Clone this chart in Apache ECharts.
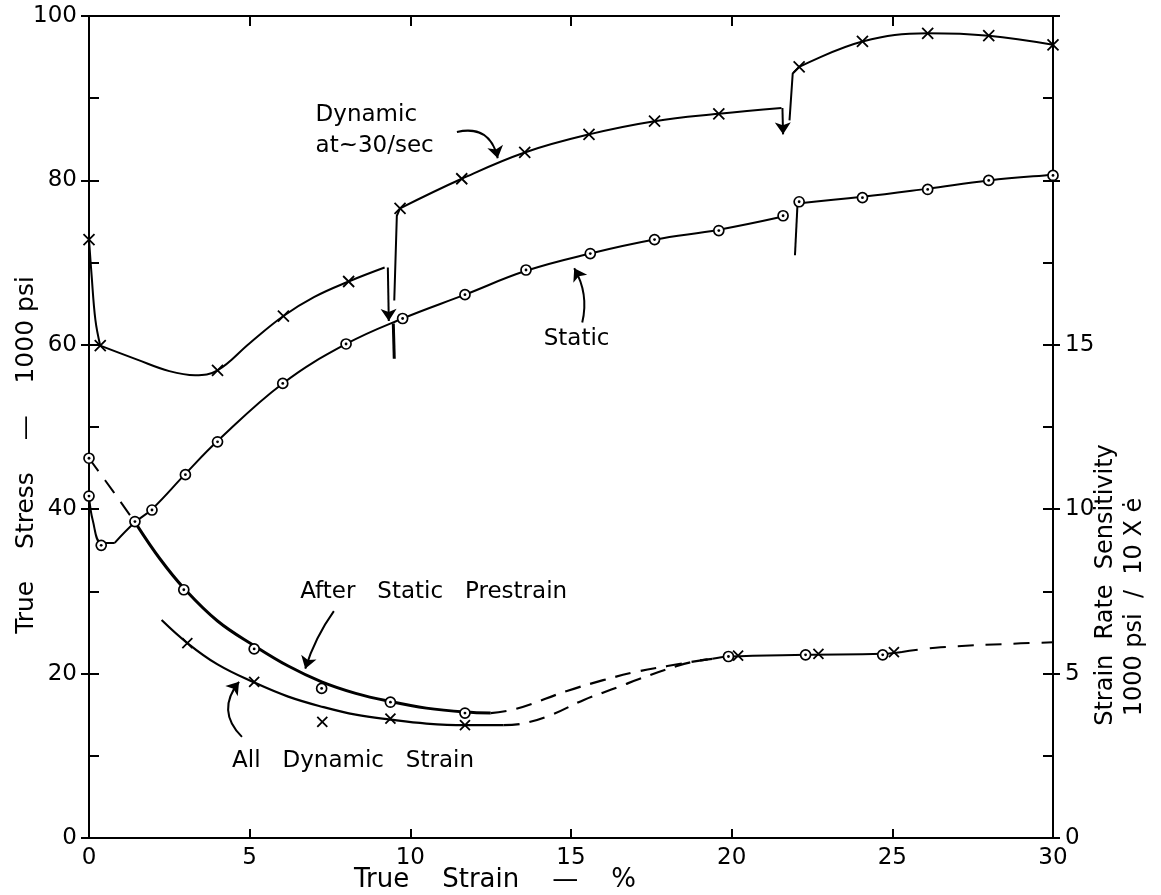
<!DOCTYPE html>
<html><head><meta charset="utf-8">
<script src="https://cdn.jsdelivr.net/npm/echarts@6/dist/echarts.min.js"></script>
<style>html,body{margin:0;padding:0;background:#fff}#c{width:1161px;height:895px}</style>
</head><body><div id="c"></div>
<script>
// ---------- tick labels ----------
const xLabels = [0, 5, 10, 15, 20, 25, 30];
const leftLabels = [0, 20, 40, 60, 80, 100];
const rightLabels = [0, 5, 10, 15];

// ---------- Dynamic at ~30/sec (True stress, 1000 psi) ----------
const dynDrop = [[0,72.8],[0.08,68.5],[0.2,63.0],[0.35,59.9]];
const dynSeg1 = [[0.35,59.9],[1.5,58.2],[2.5,56.8],[3.3,56.3],[4.0,56.9],[5.0,60.2],[6.05,63.5],[7.0,65.8],[8.08,67.7],[9.2,69.4]];
const dynSeg2 = [[9.68,76.6],[11.6,80.2],[13.56,83.4],[15.56,85.6],[17.6,87.2],[19.6,88.1],[21.55,88.8]];
const dynSeg3 = [[22.1,93.8],[24.07,96.9],[26.1,97.9],[28.0,97.6],[30.0,96.5]];
const dynJump1 = [[9.5,65.4],[9.58,75.7],[9.68,76.6]];
const dynJump2 = [[21.8,87.3],[21.9,93.0],[22.1,93.8]];
const dynMarks = [[0,72.8],[0.35,59.9],[4.0,56.9],[6.05,63.5],[8.08,67.7],[9.68,76.6],[11.6,80.2],[13.56,83.4],[15.56,85.6],[17.6,87.2],[19.6,88.1],[22.1,93.8],[24.07,96.9],[26.1,97.9],[28.0,97.6],[30.0,96.5]];

// ---------- Static (True stress, 1000 psi) ----------
const staticDrop = [[0,41.6],[0.12,38.6],[0.38,35.9],[0.8,35.9]];
const staticSeg1 = [[0.8,35.9],[1.43,38.4],[1.96,40.0],[3.0,44.3],[4.0,48.3],[6.03,55.3],[8.0,60.1],[9.76,63.2],[11.7,66.1],[13.6,69.0],[15.6,71.1],[17.6,72.8],[19.6,74.0],[21.6,75.6]];
const staticSeg2 = [[22.05,77.2],[24.07,78.0],[26.1,79.0],[28.0,80.0],[30.0,80.7],[30.4,80.8]];
const staticJump1 = [[9.5,58.3],[9.47,62.6]];
const staticJump2 = [[21.97,70.9],[22.05,77.2]];
const staticMarks = [[0,41.6],[0.38,35.6],[1.43,38.5],[1.96,39.9],[3.0,44.2],[4.0,48.2],[6.03,55.3],[8.0,60.1],[9.76,63.2],[11.7,66.1],[13.6,69.1],[15.6,71.1],[17.6,72.8],[19.6,73.9],[21.6,75.7],[22.1,77.4],[24.07,77.9],[26.1,78.9],[28.0,80.0],[30.0,80.6]];

// ---------- Strain rate sensitivity (1000 psi / 10x strain rate) ----------
const preDashStart = [[0,11.55],[0.5,10.88],[1.0,10.2],[1.5,9.5]];
const preSolid = [[1.5,9.5],[2.2,8.5],[2.95,7.6],[4.0,6.6],[5.14,5.85],[6.2,5.23],[7.24,4.75],[8.3,4.4],[9.38,4.15],[10.5,3.95],[11.7,3.83],[12.5,3.8]];
const preDashEnd = [[12.5,3.8],[13.3,3.93],[14.9,4.48],[16.0,4.8],[17.0,5.05],[18.0,5.23],[18.9,5.38],[19.4,5.45]];
const preMarks = [[0,11.55],[2.95,7.55],[5.14,5.75],[7.24,4.55],[9.38,4.13],[11.7,3.8],[19.9,5.52],[22.3,5.57],[24.7,5.57]];

const allDynSolid = [[2.26,6.63],[3.06,5.93],[4.0,5.28],[5.14,4.73],[6.2,4.3],[7.3,3.98],[8.3,3.75],[9.38,3.6],[10.5,3.48],[11.7,3.43],[12.9,3.43]];
const allDynDash = [[12.9,3.43],[13.5,3.48],[14.4,3.75],[15.4,4.2],[16.5,4.6],[17.1,4.83],[18.3,5.23],[18.9,5.38],[19.4,5.45]];
const allDynMarks = [[3.06,5.93],[5.14,4.75],[7.26,3.53],[9.38,3.63],[11.7,3.43],[20.2,5.55],[22.7,5.6],[25.05,5.65]];

const joinedSolid = [[19.4,5.45],[19.9,5.52],[22.3,5.57],[24.7,5.6],[25.3,5.66]];
const joinedDash = [[25.3,5.66],[26.5,5.8],[29.0,5.92],[30.0,5.95]];

// ---------- annotations (True stress units) ----------
const annotText = [
  {name:'Dynamic', value:[7.05,88.0]},
  {name:'at~30/sec', value:[7.05,84.2]},
  {name:'Static', value:[14.15,60.7]},
  {name:'After   Static   Prestrain', value:[6.57,29.9]},
  {name:'All   Dynamic   Strain', value:[4.45,9.4]}
];
const arrowFrom = [[11.45,85.9],[15.35,62.7],[7.62,27.6],[4.76,12.3],[9.3,69.4],[21.58,88.8]];
const arrowTo   = [[12.72,82.7],[15.1,69.3],[6.73,20.6],[4.67,19.0],[9.33,62.9],[21.6,85.6]];
const arrowBend = [0.5,-0.2,-0.08,0.45,0,0];

const FONT = 'DejaVu Sans';
const BLACK = '#000';
const xSym = 'path://M0,0L10,10M10,0L0,10';

function line(data, yi, opts) {
  return Object.assign({
    type:'line', data, yAxisIndex: yi, showSymbol:false, symbol:'none', silent:true,
    smooth:0.4, z:3,
    lineStyle:{color:BLACK, width:2}
  }, opts || {});
}
function xMarks(data, yi, size) {
  return {type:'scatter', data, yAxisIndex: yi, symbol:xSym, symbolSize: size || 10, silent:true, z:5,
    itemStyle:{color:'rgba(0,0,0,0)', borderColor:BLACK, borderWidth:1.8, opacity:1}};
}
function oMarks(data, yi) {
  return [
    {type:'scatter', data, yAxisIndex: yi, symbol:'circle', symbolSize:10, silent:true, z:5,
      itemStyle:{color:'#fff', borderColor:BLACK, borderWidth:1.7, opacity:1}},
    {type:'scatter', data, yAxisIndex: yi, symbol:'circle', symbolSize:2.8, silent:true, z:6,
      itemStyle:{color:BLACK, opacity:1}}
  ];
}

const axisLbl = {color:BLACK, fontFamily:FONT, fontSize:23};
const axLine = {show:true, onZero:false, lineStyle:{color:BLACK, width:2}};

const option = {
  animation:false,
  backgroundColor:'#fff',
  grid:{left:89, right:108, top:16, bottom:57},
  xAxis:[
    {type:'value', min:0, max:30, interval:5, position:'bottom',
      axisLine:axLine,
      axisTick:{inside:true, length:9, lineStyle:{color:BLACK, width:2}},
      splitLine:{show:false},
      axisLabel:Object.assign({margin:9, formatter:v => xLabels.includes(v) ? String(v) : ''}, axisLbl)},
    {type:'value', min:0, max:30, interval:5, position:'top',
      axisLine:axLine,
      axisTick:{inside:true, length:10, lineStyle:{color:BLACK, width:2}},
      splitLine:{show:false}, axisLabel:{show:false}}
  ],
  yAxis:[
    {type:'value', min:0, max:100, interval:10, position:'left',
      axisLine:axLine,
      axisTick:{inside:true, length:10, lineStyle:{color:BLACK, width:2}},
      splitLine:{show:false},
      axisLabel:Object.assign({margin:12, formatter:v => leftLabels.includes(v) ? String(v) : ''}, axisLbl)},
    {type:'value', min:0, max:25, interval:2.5, position:'right',
      axisLine:axLine,
      axisTick:{inside:true, length:10, lineStyle:{color:BLACK, width:2}},
      splitLine:{show:false},
      axisLabel:Object.assign({margin:12, formatter:v => rightLabels.includes(v) ? String(v) : ''}, axisLbl)},
    {type:'value', min:0, max:100, interval:20, position:'left',
      axisLine:{show:false, onZero:false}, axisTick:{inside:false, length:8, lineStyle:{color:BLACK, width:2}},
      splitLine:{show:false}, axisLabel:{show:false}},
    {type:'value', min:0, max:25, interval:5, position:'right',
      axisLine:{show:false, onZero:false}, axisTick:{inside:false, length:7, lineStyle:{color:BLACK, width:2}},
      splitLine:{show:false}, axisLabel:{show:false}}
  ],
  series:[
    line(dynDrop, 0),
    line(dynSeg1, 0),
    line(dynSeg2, 0),
    line(dynSeg3, 0),
    line(dynJump1, 0, {smooth:false}),
    line(dynJump2, 0, {smooth:false}),
    xMarks(dynMarks, 0, 11),
    line(staticDrop, 0),
    line(staticSeg1, 0),
    line(staticSeg2, 0),
    line(staticJump1, 0, {smooth:false, lineStyle:{color:BLACK, width:3}}),
    line(staticJump2, 0, {smooth:false}),
    ...oMarks(staticMarks, 0),
    line(preDashStart, 1, {lineStyle:{color:BLACK, width:2, type:[16,11]}}),
    line(preSolid, 1, {lineStyle:{color:BLACK, width:3}}),
    line(preDashEnd, 1, {lineStyle:{color:BLACK, width:2.2, type:[16,10]}}),
    line(allDynSolid, 1, {lineStyle:{color:BLACK, width:2.2}}),
    line(allDynDash, 1, {lineStyle:{color:BLACK, width:2.2, type:[16,10]}}),
    line(joinedSolid, 1, {lineStyle:{color:BLACK, width:2}}),
    line(joinedDash, 1, {lineStyle:{color:BLACK, width:2, type:[16,12]}}),
    ...oMarks(preMarks, 1),
    xMarks(allDynMarks, 1, 10),
    {type:'lines', coordinateSystem:'cartesian2d', xAxisIndex:0, yAxisIndex:0, silent:true, z:4,
      symbol:['none','arrow'], symbolSize:12,
      lineStyle:{color:BLACK, width:2, opacity:1},
      data: arrowFrom.map((f, i) => ({coords:[f, arrowTo[i]], lineStyle:{curveness:arrowBend[i]}}))},
    {type:'scatter', yAxisIndex:0, data:annotText, symbolSize:0.1, silent:true, z:7,
      itemStyle:{color:'rgba(0,0,0,0)', opacity:1},
      label:{show:true, position:'right', distance:0, formatter:'{b}', color:BLACK, opacity:1,
        fontFamily:FONT, fontSize:23}}
  ],
  graphic:[
    {type:'text', x:495, y:880, style:{text:'True    Strain    —    %', fill:BLACK, font:'26px "DejaVu Sans"', align:'center', verticalAlign:'middle'}},
    {type:'text', x:26, y:455, rotation:Math.PI/2, style:{text:'True    Stress    —    1000 psi', fill:BLACK, font:'25px "DejaVu Sans"', align:'center', verticalAlign:'middle'}},
    {type:'text', x:1106, y:585, rotation:Math.PI/2, style:{text:'Strain  Rate  Sensitivity', fill:BLACK, font:'24px "DejaVu Sans"', align:'center', verticalAlign:'middle'}},
    {type:'text', x:1135, y:607, rotation:Math.PI/2, style:{text:'1000 psi  /  10 X ė', fill:BLACK, font:'24px "DejaVu Sans"', align:'center', verticalAlign:'middle'}}
  ]
};

const chart = echarts.init(document.getElementById('c'), null, {renderer:'canvas'});
chart.setOption(option);
</script>
</body></html>
